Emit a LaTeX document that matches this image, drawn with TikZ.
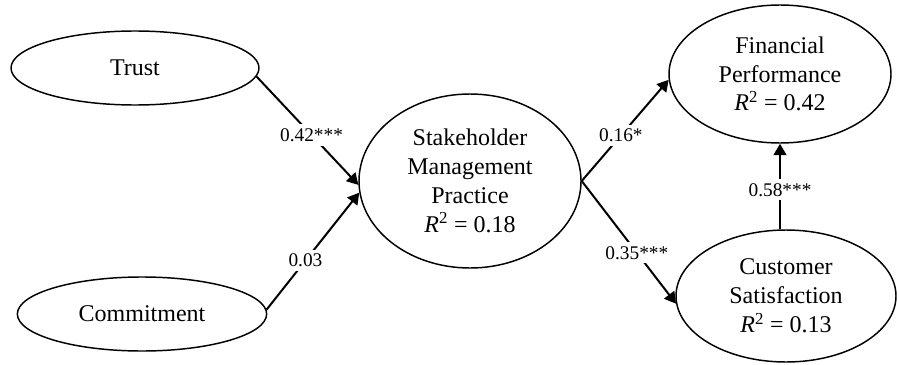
\documentclass[tikz,border=0pt]{standalone}
\usepackage{fontspec}
\setmainfont{Liberation Serif}
\usetikzlibrary{shapes.geometric,arrows.meta}
\begin{document}
\begin{tikzpicture}[x=0.75pt,y=-0.75pt,
        construct/.style={draw,ellipse,line width=1.1pt,inner sep=0pt,align=center,
            font=\fontsize{18}{21.6}\selectfont},
        path/.style={line width=1.5pt,-{Triangle[length=8.5pt,width=9.5pt]}},
        coef/.style={fill=white,inner sep=3pt,font=\fontsize{14.5}{17}\selectfont}]
        \useasboundingbox (0,0) rectangle (899,364);
        \node[construct,minimum width=186pt,minimum height=55.5pt](trust) at (135,68){Trust};
        \node[construct,minimum width=187pt,minimum height=55.5pt](commit) at (142,314){Commitment};
        \node[construct,minimum width=166.5pt,minimum height=130.5pt](smp) at (470,181)
            {Stakeholder\\Management\\Practice\\\textit{R}\textsuperscript{2} = 0.18};
        \node[construct,minimum width=166.5pt,minimum height=103.5pt](finperf) at (780,74)
            {Financial\\Performance\\\textit{R}\textsuperscript{2} = 0.42};
        \node[construct,minimum width=165pt,minimum height=99pt](custsat) at (786,296)
            {Customer\\Satisfaction\\\textit{R}\textsuperscript{2} = 0.13};
        % paths
        \draw[path](trust.-4)--node[coef,pos=.54]{0.42***}(smp.182);
        \draw[path](commit.2)--node[coef,pos=.42]{0.03}(smp.186);
        \draw[path](smp.east)--node[coef,pos=.45]{0.16*}(finperf.183);
        \draw[path](smp.east)--node[coef,pos=.585]{0.35***}(custsat.184);
        \draw[path](custsat.north -| finperf.south)--node[coef,pos=.46]{0.58***}(finperf.south);
    \end{tikzpicture}
\end{document}
